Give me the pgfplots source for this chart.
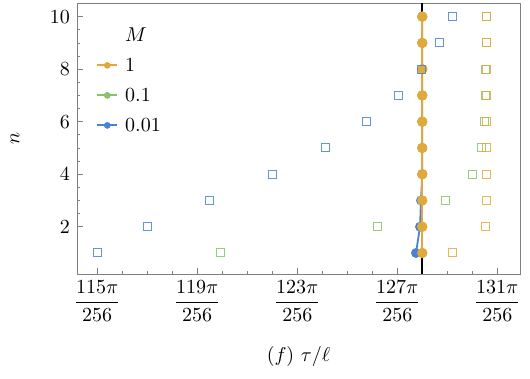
\documentclass[border=0pt]{standalone}
\usepackage{amsmath}
\usepackage{pgfplots}
\pgfplotsset{compat=1.18}
\definecolor{cblue}{RGB}{74,128,214}
\definecolor{cgreen}{RGB}{136,194,108}
\definecolor{corange}{RGB}{224,170,58}
\begin{document}
\begin{tikzpicture}
\path[use as bounding box] (-38.5pt,-52.5pt) rectangle (226.5pt,137pt);
\begin{axis}[
  scale only axis,
  width=221.5pt, height=135.5pt,
  xmin=114.19, xmax=131.91,
  ymin=0.2, ymax=10.52,
  xtick={115,119,123,127,131},
  xticklabels={$\dfrac{115\pi}{256}$,$\dfrac{119\pi}{256}$,$\dfrac{123\pi}{256}$,$\dfrac{127\pi}{256}$,$\dfrac{131\pi}{256}$},
  ytick={2,4,6,8,10},
  minor x tick num=3,
  minor y tick num=3,
  tick pos=left,
  tick align=inside,
  major tick length=3pt,
  minor tick length=1.6pt,
  every tick/.style={gray},
  axis line style={gray},
  xlabel={$(f)\ \tau/\ell$},
  ylabel={$n$},
  xlabel style={at={(axis description cs:0.5,0)}, anchor=center, yshift=-41.5pt},
  ylabel style={at={(axis description cs:-0.14,0.5)}, anchor=center},
  legend style={draw=none, fill=none, inner sep=0pt, font=\normalsize,
    at={(axis description cs:0,1)}, anchor=north west, xshift=9.5pt, yshift=-13pt,
    nodes={inner sep=0pt, text height=6pt, text depth=0pt, anchor=west},
    row sep=9pt,
    /tikz/every odd column/.append style={column sep=3.5pt}},
  legend cell align=left,
  legend image code/.code={\draw[mark repeat=2,mark phase=2,#1] plot coordinates {(0pt,0pt) (5pt,0pt) (10pt,0pt)};},
]
% vertical line at pi/2
\addplot[black, line width=1pt, forget plot] coordinates {(128,0.2) (128,10.52)};
% lines with filled marks
\addplot[cblue, line width=0.9pt, mark=*, mark size=2pt, forget plot] coordinates {
(127.75,1) (127.91,2) (127.95,3) (128,4) (128,5) (128,6) (128,7) (128,8) (128,9) (128,10)};
\addplot[cgreen, line width=0.9pt, mark=*, mark size=2pt, forget plot] coordinates {
(128,1) (128,2) (128,3) (128,4) (128,5) (128,6) (128,7) (128,8) (128,9) (128,10)};
\addplot[corange, line width=1.1pt, mark=*, mark size=2pt, forget plot] coordinates {
(128,1) (128,2) (128,3) (128,4) (128,5) (128,6) (128,7) (128,8) (128,9) (128,10)};
% open squares
\addplot[only marks, mark=square, mark size=2pt, draw=cblue, draw opacity=0.85, mark options={line width=0.5pt}, forget plot] coordinates {
(115.0,1) (117.03,2) (119.51,3) (121.99,4) (124.11,5) (125.75,6) (127.03,7) (127.98,8) (128.67,9) (129.2,10)};
\addplot[only marks, mark=square, mark size=2pt, draw=cgreen, draw opacity=0.85, mark options={line width=0.5pt}, forget plot] coordinates {
(119.95,1) (126.22,2) (128.94,3) (129.99,4) (130.35,5) (130.48,6) (130.52,7) (130.54,8) (130.55,9) (130.56,10)};
\addplot[only marks, mark=square, mark size=2pt, draw=corange, draw opacity=0.85, mark options={line width=0.5pt}, forget plot] coordinates {
(129.2,1) (130.51,2) (130.55,3) (130.55,4) (130.55,5) (130.55,6) (130.55,7) (130.55,8) (130.55,9) (130.55,10)};
% legend
\addlegendimage{empty legend}
\addlegendentry{$M$}
\addlegendimage{corange, line width=0.9pt, mark=*, mark size=1.2pt}
\addlegendentry{1}
\addlegendimage{cgreen, line width=0.9pt, mark=*, mark size=1.2pt}
\addlegendentry{0.1}
\addlegendimage{cblue, line width=0.9pt, mark=*, mark size=1.2pt}
\addlegendentry{0.01}
\end{axis}
\end{tikzpicture}
\end{document}
